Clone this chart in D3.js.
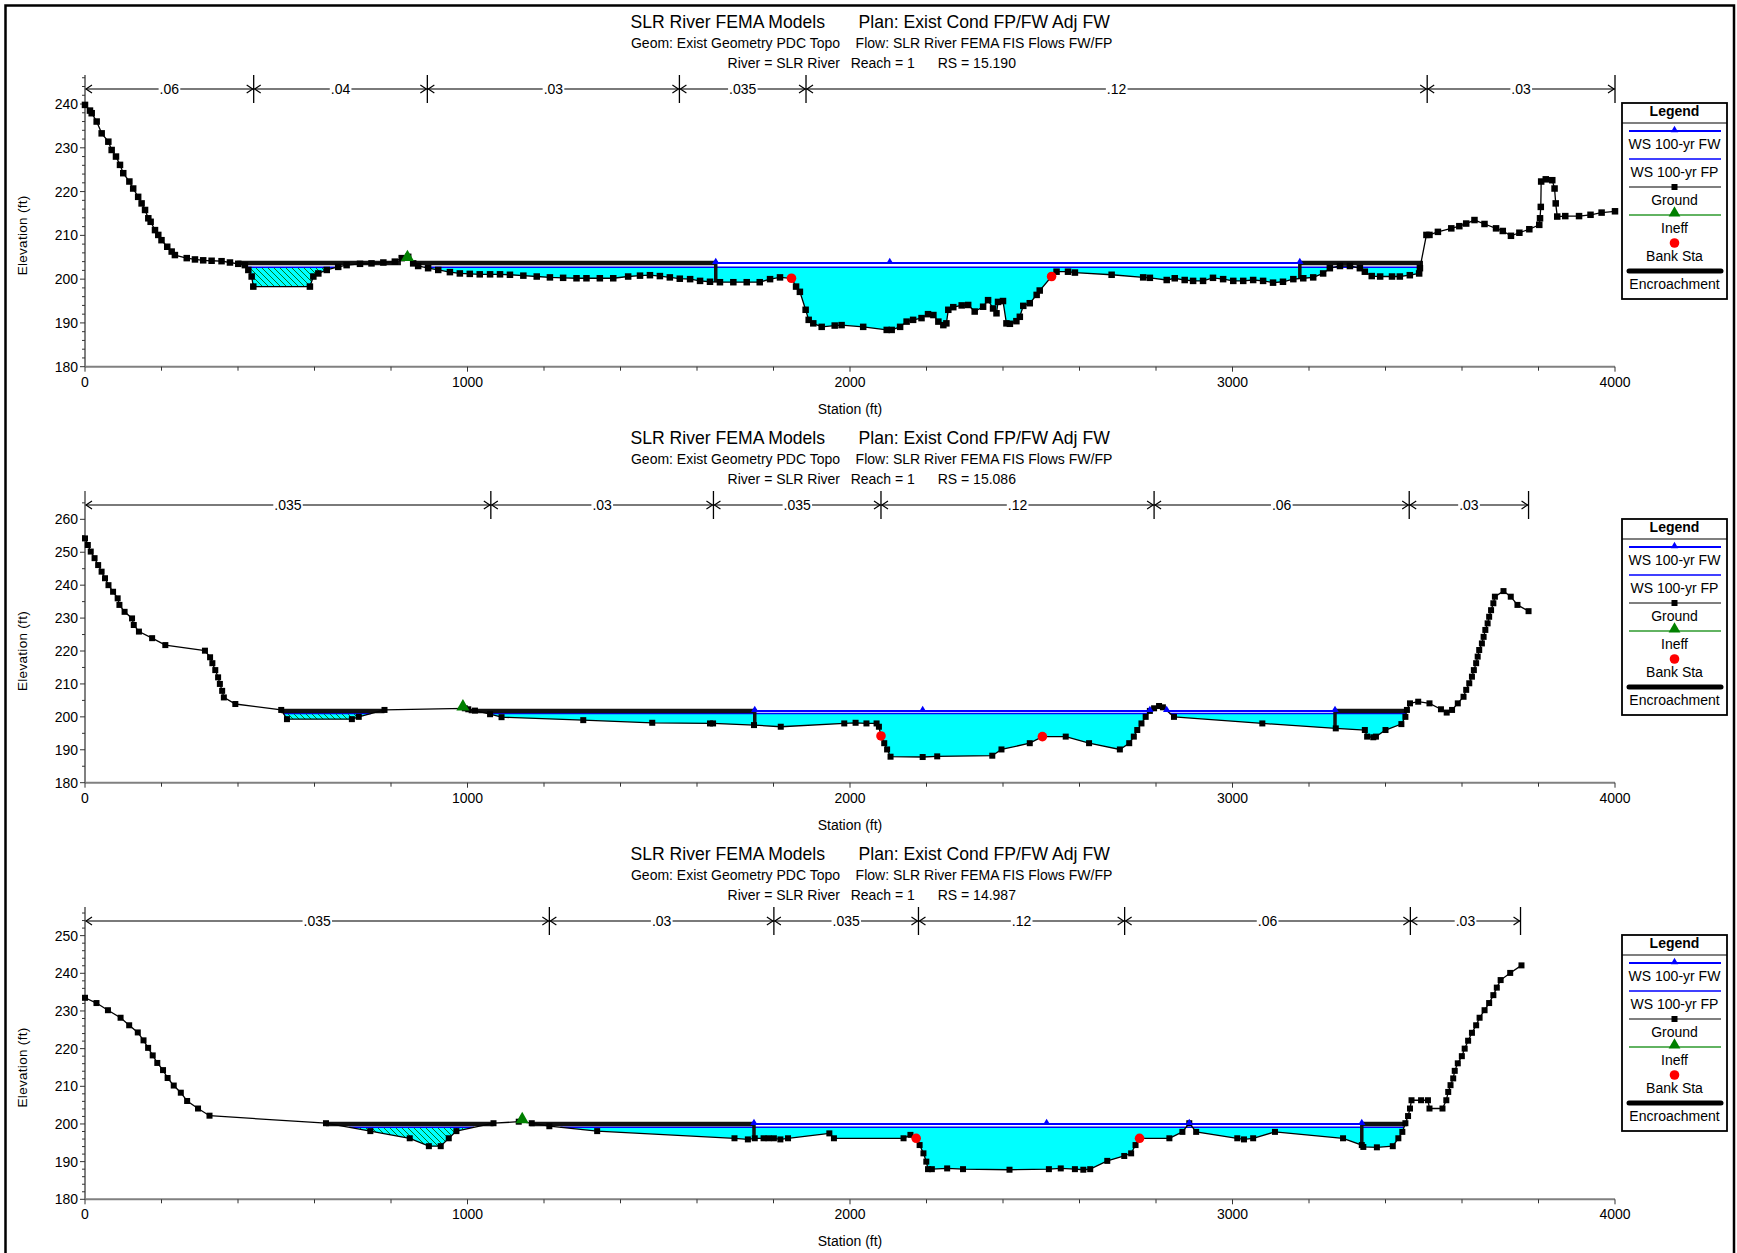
<!DOCTYPE html>
<html>
<head>
<meta charset="utf-8">
<title>SLR River FEMA Models – Cross Sections</title>
<script src="https://cdn.jsdelivr.net/npm/d3@7/dist/d3.min.js"></script>
<style>
  html, body { margin: 0; padding: 0; background: #fff; }
  svg { display: block; font-family: "Liberation Sans", Arial, sans-serif; }
</style>
</head>
<body>
<svg id="chart" width="1737" height="1253"></svg>
<script>
// ---------------------------------------------------------------
// Heading text shared by every cross section
// ---------------------------------------------------------------
const projectTitle = "SLR River FEMA Models";
const planTitle = "Plan: Exist Cond FP/FW Adj FW";
const geomTitle = "Geom: Exist Geometry PDC Topo";
const flowTitle = "Flow: SLR River FEMA FIS Flows FW/FP";
const riverLabel = "River = SLR River";
const reachLabel = "Reach = 1";
const sectionIds = ["15.190", "15.086", "14.987"];

const xTickValues = [0, 1000, 2000, 3000, 4000];
const yTicks15190 = [180, 190, 200, 210, 220, 230, 240];
const yTicks15086 = [180, 190, 200, 210, 220, 230, 240, 250, 260];
const yTicks14987 = [180, 190, 200, 210, 220, 230, 240, 250];
const legendLabels = ["WS 100-yr FW", "WS 100-yr FP", "Ground", "Ineff", "Bank Sta", "Encroachment"];

// ---------------------------------------------------------------
// RS 15.190
// ---------------------------------------------------------------
const sta15190 = [0, 13, 17.5, 30.5, 43.6, 61, 69.7, 81, 91.5, 100, 116, 126, 139, 148, 157, 165.5, 171.6, 183, 191.6, 200,
  215, 226.6, 235, 266, 287.5, 309, 331, 357, 379, 400.7, 418, 427, 435.7, 440, 588, 597, 610, 632, 662, 684,
  719, 749, 780, 810, 828, 845, 858, 871, 897, 923.5, 954, 980, 1006, 1032, 1059, 1085, 1111, 1146, 1181, 1215.5,
  1250, 1285, 1311, 1346, 1381, 1420, 1451, 1477, 1503, 1529, 1555, 1582, 1608, 1634, 1660, 1695, 1730, 1764, 1791, 1817,
  1847, 1859, 1869, 1884, 1892, 1904, 1926, 1960, 1978, 2034.5, 2096, 2109, 2131, 2148, 2165, 2187, 2204, 2218, 2231, 2244,
  2252, 2257, 2270, 2292, 2309, 2326, 2348, 2361, 2374, 2383, 2387, 2400, 2409, 2418, 2435, 2444, 2453, 2470, 2488, 2496,
  2527, 2540, 2570, 2588, 2684, 2766.5, 2784, 2828, 2849, 2875, 2897, 2923, 2949, 2975.5, 3002, 3028, 3054, 3080, 3106, 3132,
  3159, 3185, 3211, 3237, 3254.5, 3281, 3307, 3333, 3346, 3364, 3386, 3417, 3437.5, 3463.6, 3488, 3490, 3507, 3515, 3537, 3572,
  3593, 3611, 3632.6, 3658.8, 3689, 3706.6, 3728, 3750, 3776, 3802, 3804, 3806, 3807, 3819, 3836, 3842, 3845, 3849, 3870, 3906,
  3936, 3965, 4000];
const elev15190 = [239.8, 238.5, 237.9, 236.0, 233.3, 231.4, 229.5, 228.0, 226.1, 224.2, 222.3, 220.7, 218.8, 217.3, 215.8, 213.9, 213.1, 211.2, 210.1, 208.9,
  207.4, 206.3, 205.5, 204.8, 204.5, 204.3, 204.2, 204.1, 203.8, 203.5, 203.2, 202.1, 200.6, 198.3, 198.3, 200.6, 201.3, 202.1, 202.8, 203.2,
  203.5, 203.6, 203.8, 204.0, 204.8, 205.1, 203.6, 203.0, 202.5, 202.1, 201.6, 201.3, 201.2, 201.1, 201.1, 201.1, 201.0, 200.8, 200.6, 200.4,
  200.3, 200.2, 200.2, 200.2, 200.2, 200.6, 200.8, 200.9, 200.7, 200.4, 200.1, 200.0, 199.6, 199.4, 199.3, 199.3, 199.3, 199.3, 200.0, 200.4,
  200.2, 198.3, 197.1, 193.0, 190.7, 189.9, 189.1, 189.4, 189.5, 189.1, 188.4, 188.4, 189.1, 190.3, 190.7, 191.1, 192.0, 191.8, 190.3, 189.5,
  189.9, 193.0, 193.6, 194.0, 194.1, 192.6, 193.7, 195.2, 193.3, 192.2, 194.8, 195.0, 189.9, 189.8, 190.4, 191.4, 193.9, 194.5, 196.4, 197.4,
  200.6, 201.7, 201.7, 201.5, 201.0, 200.4, 200.3, 199.8, 200.2, 199.8, 199.6, 199.6, 200.3, 200.0, 199.6, 199.6, 199.8, 199.6, 199.2, 199.4,
  200.0, 200.2, 200.4, 201.3, 202.5, 203.0, 203.0, 202.5, 201.7, 200.7, 200.6, 200.6, 200.6, 200.9, 201.3, 202.5, 210.1, 210.1, 210.8, 211.6,
  212.1, 212.7, 213.5, 212.6, 211.6, 211.0, 209.9, 210.6, 211.4, 212.4, 213.9, 216.5, 222.3, 222.8, 222.6, 220.7, 217.3, 214.3, 214.4, 214.4,
  214.7, 215.2, 215.5];
const nBreaks15190 = [0, 441, 895, 1554, 1885, 3509, 4000];
const nValues15190 = [".06", ".04", ".03", ".035", ".12", ".03"];
const bankSta15190 = [1847, 2527];
const ineff15190 = [843, 205.0];
const wsFW15190 = 203.7;
const wsFP15190 = 202.7;
const fwReach15190 = [[1649, 3176]];
const fwMarks15190 = [1649, 2104, 3176];
const fpReach15190 = [[887, 3490]];
const pond15190 = [[422, 655]];
const encSpans15190 = [[398, 826], [862, 1649], [3176, 3498]];
const encSta15190 = [1649, 3176];

// ---------------------------------------------------------------
// RS 15.086
// ---------------------------------------------------------------
const sta15086 = [0, 7.4, 15, 25, 34.4, 43.4, 52.3, 61.4, 73.4, 85.4, 90, 103.5, 123, 127.5, 141, 175.5, 210, 313.6, 327, 333,
  340.6, 348, 352.6, 358.6, 363, 393, 513, 528, 697.7, 715.7, 783, 993, 1002, 1019.5, 1059, 1089, 1302.6, 1483, 1634, 1642,
  1749, 1819, 1985, 2014.6, 2043, 2069.5, 2075.6, 2081, 2089.5, 2097, 2106, 2190, 2228, 2372, 2396, 2470, 2503, 2564, 2625, 2705.5,
  2730, 2742, 2751, 2762, 2773, 2784, 2795, 2808, 2818, 2847, 3078, 3270, 3346, 3352, 3368, 3375, 3400, 3441.5, 3452, 3456,
  3464, 3485.5, 3515, 3545, 3560, 3574, 3589, 3604, 3611, 3619, 3626, 3631, 3637, 3641, 3645, 3652, 3656.5, 3661, 3667, 3671,
  3676, 3682, 3686, 3708.5, 3727.5, 3745, 3774];
const elev15086 = [254.2, 252.2, 250.2, 248.2, 246.1, 244.1, 242.1, 240.0, 238.0, 236.0, 234.0, 231.9, 229.9, 227.9, 225.9, 223.9, 221.8, 220.1, 218.1, 216.3,
  214.2, 212.0, 210.0, 207.9, 205.9, 203.9, 202.1, 199.3, 199.3, 200.0, 202.1, 202.6, 202.3, 201.9, 200.8, 199.9, 199.0, 198.2, 198.0, 198.0,
  197.5, 197.0, 198.0, 198.2, 198.0, 198.0, 197.0, 194.2, 192.0, 190.1, 187.9, 187.8, 188.0, 188.2, 190.1, 192.0, 194.0, 194.0, 192.0, 190.1,
  192.0, 194.0, 196.0, 198.0, 200.0, 201.8, 202.6, 203.3, 202.9, 200.0, 198.0, 196.5, 196.0, 194.0, 193.8, 194.0, 196.0, 197.8, 200.0, 202.1,
  204.1, 204.6, 204.1, 202.3, 201.3, 202.1, 204.1, 206.1, 208.2, 210.2, 212.2, 214.2, 216.3, 218.3, 220.3, 222.3, 224.3, 226.4, 228.4, 230.4,
  232.4, 234.5, 236.5, 238.2, 236.5, 234.0, 232.1];
const nBreaks15086 = [0, 1061, 1643, 2081, 2795, 3462, 3774];
const nValues15086 = [".035", ".03", ".035", ".12", ".06", ".03"];
const bankSta15086 = [2081, 2503];
const ineff15086 = [988, 203.1];
const wsFW15086 = 201.8;
const wsFP15086 = 201.0;
const fwReach15086 = [[1751, 2784], [2828, 3268]];
const fwMarks15086 = [1751, 2190, 2784, 2828, 3268];
const fpReach15086 = [[1055, 2779], [2835, 3454]];
const pond15086 = [[519, 748]];
const encSpans15086 = [[513, 783], [1003, 1751], [3268, 3456]];
const encSta15086 = [1751, 3268];

// ---------------------------------------------------------------
// RS 14.987
// ---------------------------------------------------------------
const sta14987 = [0, 30, 60, 93, 115.5, 138, 153, 165, 177, 189, 204, 216, 232, 250.5, 267, 295.5, 325.5, 630, 746, 849,
  899, 930, 951, 971, 1068, 1134, 1168, 1214, 1339, 1698, 1733, 1751, 1774, 1787, 1801, 1818, 1838, 1946, 1958, 2140,
  2158, 2173, 2182, 2192, 2199.5, 2204, 2214, 2254, 2295.5, 2417, 2520, 2551, 2588, 2610, 2628, 2672.6, 2717, 2735, 2746.5, 2757,
  2835, 2869, 2887, 2905, 3012.5, 3030, 3054, 3111, 3289, 3338, 3342, 3377.5, 3419, 3433.6, 3444, 3452, 3459, 3464, 3468, 3493,
  3511, 3515, 3549, 3559, 3564, 3570, 3577, 3581, 3589, 3599.6, 3607, 3616, 3626, 3637, 3646, 3659, 3671, 3682, 3691, 3701,
  3726, 3755.5];
const elev14987 = [233.5, 232.1, 230.2, 228.2, 226.2, 224.3, 222.2, 220.2, 218.2, 216.2, 214.3, 212.2, 210.2, 208.3, 206.1, 204.1, 202.2, 200.2, 198.1, 196.2,
  194.1, 194.1, 196.2, 198.1, 200.2, 200.6, 200.2, 199.4, 198.1, 196.2, 195.9, 196.2, 196.2, 196.2, 196.2, 195.9, 196.2, 197.5, 196.2, 196.2,
  197.1, 196.2, 194.4, 192.2, 190.0, 188.0, 188.0, 188.2, 188.0, 187.85, 188.0, 188.2, 188.0, 187.85, 188.0, 190.2, 191.5, 192.2, 194.4, 196.2,
  196.2, 197.9, 200.2, 197.9, 196.2, 195.9, 196.2, 197.9, 196.2, 194.4, 193.9, 193.8, 194.1, 196.2, 197.9, 200.2, 202.1, 204.1, 206.3, 206.3,
  206.3, 204.1, 204.1, 206.3, 208.5, 210.3, 212.1, 214.1, 216.1, 218.0, 220.0, 222.1, 224.2, 226.2, 228.2, 230.2, 232.1, 234.2, 236.2, 238.2,
  240.1, 242.1];
const nBreaks14987 = [0, 1214, 1801, 2179, 2718, 3465, 3753];
const nValues14987 = [".035", ".03", ".035", ".12", ".06", ".03"];
const bankSta14987 = [2173, 2757];
const ineff14987 = [1143, 201.2];
const wsFW14987 = 200.0;
const wsFP14987 = 199.1;
const fwReach14987 = [[1749, 3338]];
const fwMarks14987 = [1749, 2514, 2887, 3338];
const fpReach14987 = [[1243, 3448]];
const pond14987 = [[691, 1017]];
const encSpans14987 = [[630, 1068], [1163, 1749], [3338, 3456]];
const encSta14987 = [1749, 3338];

// ---------------------------------------------------------------
// Assemble the three sections (data + panel geometry)
// ---------------------------------------------------------------
const sections = [
  { id: sectionIds[0], sta: sta15190, elev: elev15190, nBreaks: nBreaks15190, nValues: nValues15190,
    bank: bankSta15190, ineff: ineff15190, wsFW: wsFW15190, wsFP: wsFP15190,
    fwReach: fwReach15190, fwMarks: fwMarks15190, fpReach: fpReach15190, pond: pond15190,
    encSpans: encSpans15190, encSta: encSta15190, yTicks: yTicks15190,
    top: 75, bottom: 366.7, yMax: 246.63, minorStep: 2, mark: 6.5 },
  { id: sectionIds[1], sta: sta15086, elev: elev15086, nBreaks: nBreaks15086, nValues: nValues15086,
    bank: bankSta15086, ineff: ineff15086, wsFW: wsFW15086, wsFP: wsFP15086,
    fwReach: fwReach15086, fwMarks: fwMarks15086, fpReach: fpReach15086, pond: pond15086,
    encSpans: encSpans15086, encSta: encSta15086, yTicks: yTicks15086,
    top: 491, bottom: 782.7, yMax: 268.6, minorStep: 5, mark: 6 },
  { id: sectionIds[2], sta: sta14987, elev: elev14987, nBreaks: nBreaks14987, nValues: nValues14987,
    bank: bankSta14987, ineff: ineff14987, wsFW: wsFW14987, wsFP: wsFP14987,
    fwReach: fwReach14987, fwMarks: fwMarks14987, fpReach: fpReach14987, pond: pond14987,
    encSpans: encSpans14987, encSta: encSta14987, yTicks: yTicks14987,
    top: 907, bottom: 1199.3, yMax: 257.6, minorStep: 2, mark: 6 }
];

const svg = d3.select("#chart");
const BLUE = "#0000ff";
const CYAN = "#00ffff";
const AXIS_GREY = "#808080";

// hatch used for ineffective flow areas
const defs = svg.append("defs");
const pat = defs.append("pattern").attr("id", "ineffHatch")
  .attr("patternUnits", "userSpaceOnUse").attr("width", 6).attr("height", 6);
pat.append("rect").attr("width", 6).attr("height", 6).attr("fill", CYAN);
pat.append("path").attr("d", "M0,0 L6,6 M-3,3 L3,9 M3,-3 L9,3")
  .attr("stroke", "#007a1f").attr("stroke-width", 1);

// outer frame
svg.append("rect").attr("x", 5.5).attr("y", 5.5).attr("width", 1728.5).attr("height", 1300)
  .attr("fill", "none").attr("stroke", "#000").attr("stroke-width", 2.5);

const x = d3.scaleLinear().domain([0, 4000]).range([85, 1615]);

function groundAt(sta, elev, s) {
  if (s <= sta[0]) return elev[0];
  for (let i = 0; i < sta.length - 1; i++) {
    if (s >= sta[i] && s <= sta[i + 1]) {
      const t = (s - sta[i]) / (sta[i + 1] - sta[i] || 1);
      return elev[i] + t * (elev[i + 1] - elev[i]);
    }
  }
  return elev[elev.length - 1];
}

// ground profile between a and b with water-surface crossings inserted
function wetProfile(sta, elev, a, b, ws) {
  const pts = [[a, groundAt(sta, elev, a)]];
  sta.forEach((s, i) => { if (s > a && s < b) pts.push([s, elev[i]]); });
  pts.push([b, groundAt(sta, elev, b)]);
  const out = [];
  for (let k = 0; k < pts.length; k++) {
    out.push(pts[k]);
    if (k < pts.length - 1) {
      const d1 = pts[k][1] - ws, d2 = pts[k + 1][1] - ws;
      if (d1 * d2 < 0) {
        const t = d1 / (d1 - d2);
        out.push([pts[k][0] + t * (pts[k + 1][0] - pts[k][0]), ws]);
      }
    }
  }
  return out;
}

function drawSection(sec) {
  const T = sec.top, B = sec.bottom;
  const y = d3.scaleLinear().domain([180, sec.yMax]).range([B, T]);
  const g = svg.append("g");

  // ---- headings
  const h1 = g.append("g").attr("font-size", 17.6).attr("fill", "#000");
  h1.append("text").attr("x", 825).attr("y", T - 47).attr("text-anchor", "end").text(projectTitle);
  h1.append("text").attr("x", 858.5).attr("y", T - 47).text(planTitle);
  const h2 = g.append("g").attr("font-size", 14).attr("fill", "#000");
  h2.append("text").attr("x", 840).attr("y", T - 27).attr("text-anchor", "end").text(geomTitle);
  h2.append("text").attr("x", 855.6).attr("y", T - 27).text(flowTitle);
  h2.append("text").attr("x", 840).attr("y", T - 7).attr("text-anchor", "end").text(riverLabel);
  h2.append("text").attr("x", 850.7).attr("y", T - 7).text(reachLabel);
  h2.append("text").attr("x", 937.7).attr("y", T - 7).text("RS = " + sec.id);

  // ---- axes
  g.append("line").attr("x1", x(0)).attr("x2", x(4000)).attr("y1", B).attr("y2", B)
    .attr("stroke", AXIS_GREY).attr("stroke-width", 2);
  g.append("line").attr("x1", x(0)).attr("x2", x(0)).attr("y1", B).attr("y2", T)
    .attr("stroke", AXIS_GREY).attr("stroke-width", 2);

  const xMinor = d3.range(0, 4001, 200);
  g.selectAll(null).data(xMinor).enter().append("line")
    .attr("x1", d => x(d)).attr("x2", d => x(d))
    .attr("y1", B).attr("y2", d => B + (d % 1000 === 0 ? 5 : 4))
    .attr("stroke", "#333").attr("stroke-width", 1);
  g.selectAll(null).data(xTickValues).enter().append("text")
    .attr("x", d => x(d)).attr("y", B + 20).attr("text-anchor", "middle")
    .attr("font-size", 14).text(d => d);
  g.append("text").attr("x", x(2000)).attr("y", B + 47).attr("text-anchor", "middle")
    .attr("font-size", 14).text("Station (ft)");

  const yMinor = d3.range(180, sec.yMax, sec.minorStep);
  g.selectAll(null).data(yMinor).enter().append("line")
    .attr("x1", x(0)).attr("x2", d => x(0) - (d % 10 === 0 ? 5 : 3))
    .attr("y1", d => y(d)).attr("y2", d => y(d))
    .attr("stroke", "#333").attr("stroke-width", 1);
  g.selectAll(null).data(sec.yTicks).enter().append("text")
    .attr("x", x(0) - 7).attr("y", d => y(d) + 5).attr("text-anchor", "end")
    .attr("font-size", 14).text(d => d);
  const yMid = (y(sec.yTicks[0]) + y(sec.yTicks[sec.yTicks.length - 1])) / 2;
  g.append("text").attr("transform", `translate(27,${yMid}) rotate(-90)`)
    .attr("text-anchor", "middle").attr("font-size", 13.5).attr("letter-spacing", 0.3)
    .text("Elevation (ft)");

  // ---- Manning's n bar
  const ny = T + 14;
  const nEnd = sec.nBreaks[sec.nBreaks.length - 1];
  g.append("line").attr("x1", x(0)).attr("x2", x(nEnd)).attr("y1", ny).attr("y2", ny)
    .attr("stroke", "#7a7a7a").attr("stroke-width", 2);
  sec.nBreaks.slice(1).forEach(b => {
    g.append("line").attr("x1", x(b)).attr("x2", x(b)).attr("y1", T).attr("y2", T + 28)
      .attr("stroke", "#000").attr("stroke-width", 1.3);
  });
  sec.nValues.forEach((v, i) => {
    const a = x(sec.nBreaks[i]), b = x(sec.nBreaks[i + 1]);
    g.append("path").attr("d", `M${a + 7},${ny - 4} L${a + 1},${ny} L${a + 7},${ny + 4}`)
      .attr("fill", "none").attr("stroke", "#000").attr("stroke-width", 1.2);
    g.append("path").attr("d", `M${b - 7},${ny - 4} L${b - 1},${ny} L${b - 7},${ny + 4}`)
      .attr("fill", "none").attr("stroke", "#000").attr("stroke-width", 1.2);
    const t = g.append("text").attr("x", (a + b) / 2).attr("y", ny + 5)
      .attr("text-anchor", "middle").attr("font-size", 14).text(v);
    const bb = t.node().getBBox();
    g.insert("rect", () => t.node()).attr("x", bb.x - 1).attr("y", ny - 6)
      .attr("width", bb.width + 2).attr("height", 12).attr("fill", "#fff");
  });

  // ---- water fills
  const area = ws => d3.area()
    .x(d => x(d[0])).y0(y(ws)).y1(d => y(Math.min(d[1], ws)));
  sec.fpReach.forEach(([a, b]) => {
    g.append("path").datum(wetProfile(sec.sta, sec.elev, a, b, sec.wsFP))
      .attr("d", area(sec.wsFP)).attr("fill", CYAN);
  });
  sec.pond.forEach(([a, b]) => {
    g.append("path").datum(wetProfile(sec.sta, sec.elev, a, b, sec.wsFP))
      .attr("d", area(sec.wsFP)).attr("fill", "url(#ineffHatch)");
  });

  // ---- water surface lines
  sec.fpReach.concat(sec.pond).forEach(([a, b]) => {
    g.append("line").attr("x1", x(a)).attr("x2", x(b))
      .attr("y1", y(sec.wsFP)).attr("y2", y(sec.wsFP))
      .attr("stroke", BLUE).attr("stroke-width", 1.5);
  });
  sec.fwReach.forEach(([a, b]) => {
    g.append("line").attr("x1", x(a)).attr("x2", x(b))
      .attr("y1", y(sec.wsFW)).attr("y2", y(sec.wsFW))
      .attr("stroke", BLUE).attr("stroke-width", 2);
  });

  // ---- encroachments
  sec.encSpans.forEach(([a, b]) => {
    g.append("line").attr("x1", x(a)).attr("x2", x(b))
      .attr("y1", y(sec.wsFW)).attr("y2", y(sec.wsFW))
      .attr("stroke", "#111").attr("stroke-width", 4.5);
  });
  sec.encSta.forEach(s => {
    g.append("line").attr("x1", x(s)).attr("x2", x(s))
      .attr("y1", y(sec.wsFW) - 2).attr("y2", y(groundAt(sec.sta, sec.elev, s)))
      .attr("stroke", "#111").attr("stroke-width", 3.5);
  });

  // ---- ground
  const pts = sec.sta.map((s, i) => [s, sec.elev[i]]);
  const m = sec.mark;
  g.append("path").datum(pts)
    .attr("d", d3.line().x(d => x(d[0])).y(d => y(d[1])))
    .attr("fill", "none").attr("stroke", "#000").attr("stroke-width", 1.3);
  g.selectAll(null).data(pts).enter().append("rect")
    .attr("x", d => x(d[0]) - m / 2).attr("y", d => y(d[1]) - m / 2)
    .attr("width", m).attr("height", m).attr("fill", "#000");

  // ---- floodway WS markers
  const tri = d3.symbol().type(d3.symbolTriangle);
  g.selectAll(null).data(sec.fwMarks).enter().append("path")
    .attr("d", tri.size(24)())
    .attr("transform", d => `translate(${x(d)},${y(sec.wsFW) - 1})`)
    .attr("fill", BLUE);

  // ---- bank stations
  g.selectAll(null).data(sec.bank).enter().append("circle")
    .attr("cx", d => x(d)).attr("cy", d => y(groundAt(sec.sta, sec.elev, d)))
    .attr("r", 4.8).attr("fill", "#ff0000");

  // ---- ineffective flow marker
  g.append("path").attr("d", d3.symbol().type(d3.symbolTriangle).size(75)())
    .attr("transform", `translate(${x(sec.ineff[0])},${y(sec.ineff[1])})`)
    .attr("fill", "#008000");

  // ---- legend
  const lx0 = 1622, lx1 = 1727, lxc = (lx0 + lx1) / 2;
  const lg = g.append("g");
  lg.append("rect").attr("x", lx0).attr("y", T + 28).attr("width", lx1 - lx0).attr("height", 196)
    .attr("fill", "#fff").attr("stroke", "#000").attr("stroke-width", 1.8);
  lg.append("text").attr("x", lxc).attr("y", T + 41).attr("text-anchor", "middle")
    .attr("font-size", 14).attr("font-weight", "bold").text("Legend");
  lg.append("line").attr("x1", lx0).attr("x2", lx1).attr("y1", T + 48).attr("y2", T + 48)
    .attr("stroke", "#000").attr("stroke-width", 1.2);
  legendLabels.forEach((lab, i) => {
    const ly = T + 56 + i * 28;
    if (i === 0 || i === 1) {
      lg.append("line").attr("x1", 1629).attr("x2", 1721).attr("y1", ly).attr("y2", ly)
        .attr("stroke", BLUE).attr("stroke-width", i === 0 ? 2 : 1.5);
      if (i === 0) lg.append("path").attr("d", tri.size(24)())
        .attr("transform", `translate(${lxc},${ly - 1})`).attr("fill", BLUE);
    } else if (i === 2) {
      lg.append("line").attr("x1", 1629).attr("x2", 1721).attr("y1", ly).attr("y2", ly)
        .attr("stroke", "#000").attr("stroke-width", 1.2);
      lg.append("rect").attr("x", lxc - 3).attr("y", ly - 3).attr("width", 6).attr("height", 6).attr("fill", "#000");
    } else if (i === 3) {
      lg.append("line").attr("x1", 1629).attr("x2", 1721).attr("y1", ly).attr("y2", ly)
        .attr("stroke", "#2e9a2e").attr("stroke-width", 1.5);
      lg.append("path").attr("d", d3.symbol().type(d3.symbolTriangle).size(60)())
        .attr("transform", `translate(${lxc},${ly - 2})`).attr("fill", "#008000");
    } else if (i === 4) {
      lg.append("circle").attr("cx", lxc).attr("cy", ly).attr("r", 4.8).attr("fill", "#ff0000");
    } else {
      lg.append("line").attr("x1", 1629).attr("x2", 1721).attr("y1", ly).attr("y2", ly)
        .attr("stroke", "#000").attr("stroke-width", 5).attr("stroke-linecap", "round");
    }
    lg.append("text").attr("x", lxc).attr("y", ly + 18).attr("text-anchor", "middle")
      .attr("font-size", 14).text(lab);
  });
}

sections.forEach(drawSection);
</script>
</body>
</html>
